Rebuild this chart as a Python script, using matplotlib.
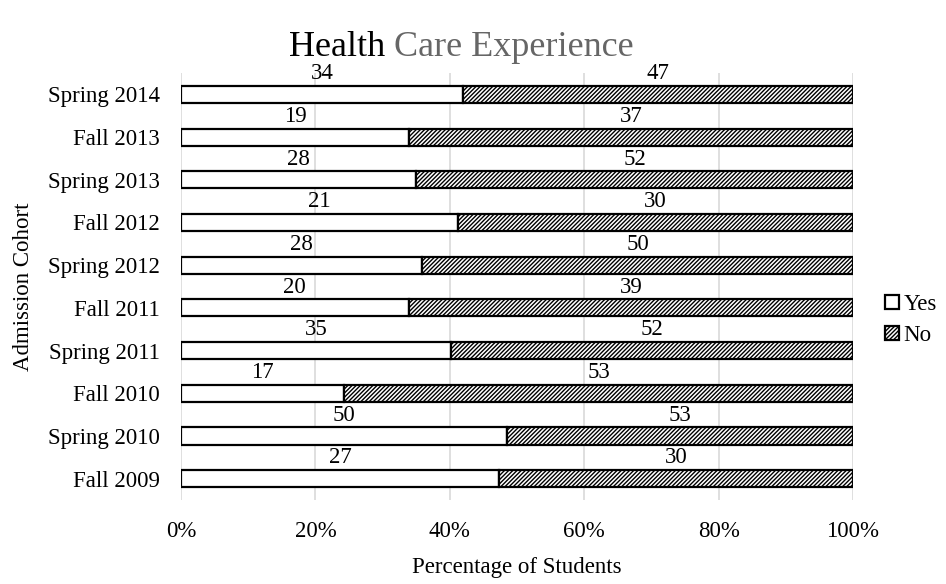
import matplotlib.pyplot as plt
import numpy as np

plt.rcParams['font.family'] = ['Liberation Serif', 'DejaVu Serif']
plt.rcParams['hatch.linewidth'] = 1.0

cohorts = ["Fall 2009", "Spring 2010", "Fall 2010", "Spring 2011", "Fall 2011",
           "Spring 2012", "Fall 2012", "Spring 2013", "Fall 2013", "Spring 2014"]
yes_counts = [27, 50, 17, 35, 20, 28, 21, 28, 19, 34]
no_counts = [30, 53, 53, 52, 39, 50, 30, 52, 37, 47]
x_ticks = [0, 20, 40, 60, 80, 100]


def main():
    yes = np.array(yes_counts, dtype=float)
    no = np.array(no_counts, dtype=float)
    total = yes + no
    yes_pct = yes / total * 100
    no_pct = no / total * 100
    y = np.arange(len(cohorts))

    fig = plt.figure(figsize=(9.46, 5.84), dpi=100)
    ax = fig.add_axes([0.1913, 0.1438, 0.7104, 0.7312])

    bh = 0.4
    ax.barh(y, yes_pct, height=bh, color="white", edgecolor="black",
            linewidth=1.6, label="Yes", zorder=3)
    ax.barh(y, no_pct, left=yes_pct, height=bh, color="white", edgecolor="black",
            hatch="////////", linewidth=1.6, label="No", zorder=3)

    # count labels sit just above each segment
    for i in range(len(cohorts)):
        ax.text(yes_pct[i] / 2, y[i] + bh / 2 + 0.04, str(yes_counts[i]),
                ha="center", va="bottom", fontsize=16.5)
        ax.text(yes_pct[i] + no_pct[i] / 2, y[i] + bh / 2 + 0.04, str(no_counts[i]),
                ha="center", va="bottom", fontsize=16.5)

    ax.set_xlim(0, 100)
    ax.set_ylim(-0.5, len(cohorts) - 0.5)
    ax.set_xticks(x_ticks)
    ax.set_xticklabels([f"{t}%" for t in x_ticks], fontsize=16.5)
    ax.set_yticks(y)
    ax.set_yticklabels(cohorts, fontsize=16.5)
    ax.tick_params(axis="y", length=0, pad=15)
    ax.tick_params(axis="x", length=0, pad=15)
    ax.xaxis.grid(True, color="#d9d9d9", linewidth=1.2, zorder=0)
    for s in ax.spines.values():
        s.set_visible(False)

    ax.set_xlabel("Percentage of Students", fontsize=16.5, labelpad=11)
    ax.set_ylabel("Admission Cohort", fontsize=16.5, labelpad=10)

    # two-tone title
    t1 = fig.text(0.3, 0.918, "Health ", fontsize=26, color="black", ha="left", va="center")
    fig.canvas.draw()
    bb = t1.get_window_extent()
    t2 = fig.text(bb.x1 / fig.bbox.width, 0.918, "Care Experience", fontsize=26,
                  color="#666666", ha="left", va="center")
    fig.canvas.draw()
    full_w = t2.get_window_extent().x1 - bb.x0
    shift = (461 - full_w / 2) - bb.x0
    t1.set_x(t1.get_position()[0] + shift / fig.bbox.width)
    t2.set_x(t2.get_position()[0] + shift / fig.bbox.width)

    fig.legend(*ax.get_legend_handles_labels(), loc="center left",
               bbox_to_anchor=(0.936, 0.452), frameon=False,
               fontsize=16.5, handlelength=0.6, handleheight=0.6, handletextpad=0.2,
               labelspacing=0.45, borderaxespad=0.0, borderpad=0.0)

    fig.savefig("out.png", dpi=100)


if __name__ == "__main__":
    main()
